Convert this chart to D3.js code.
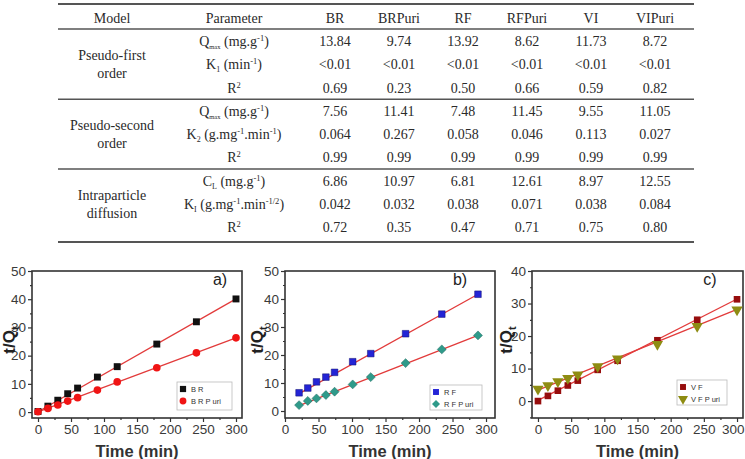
<!DOCTYPE html>
<html><head><meta charset="utf-8">
<script src="https://cdn.jsdelivr.net/npm/d3@7"></script>
<style>body{margin:0;background:#fff}svg{display:block}</style>
</head><body><div id="graph"></div>
<script>
var width=745, height=459;
var svg=d3.select('#graph').append('svg').attr('width',width).attr('height',height);

// ---- table data
var models=[["Pseudo-first","order"],["Pseudo-second","order"],["Intraparticle","diffusion"]];
var params=["Q_{max} (mg.g^{-1})","K_{1} (min^{-1})","R^{2}",
  "Q_{max} (mg.g^{-1})","K_{2} (g.mg^{-1}.min^{-1})","R^{2}",
  "C_{L} (mg.g^{-1})","K_{I} (g.mg^{-1}.min^{-1/2})","R^{2}"];
var columns=["BR","BRPuri","RF","RFPuri","VI","VIPuri"];
var cells=[
  ["13.84","9.74","13.92","8.62","11.73","8.72"],
  ["<0.01","<0.01","<0.01","<0.01","<0.01","<0.01"],
  ["0.69","0.23","0.50","0.66","0.59","0.82"],
  ["7.56","11.41","7.48","11.45","9.55","11.05"],
  ["0.064","0.267","0.058","0.046","0.113","0.027"],
  ["0.99","0.99","0.99","0.99","0.99","0.99"],
  ["6.86","10.97","6.81","12.61","8.97","12.55"],
  ["0.042","0.032","0.038","0.071","0.038","0.084"],
  ["0.72","0.35","0.47","0.71","0.75","0.80"]
];

// ---- kinetic data (t/Qt vs time)
var timeA=[0,15,30,45,60,90,120,180,240,300];
var BR=[0.2,2.1,4.2,6.5,8.5,12.4,16.1,24.1,32.0,40.1];
var BRPuri=[0.1,1.3,2.5,3.9,5.1,7.8,10.7,15.7,21.0,26.3];
var timeB=[21,34,47,61,74,101,128,180,234,288];
var RF=[6.5,8.2,10.4,12.1,13.8,17.6,20.5,27.6,34.6,41.7];
var RFPuri=[2.1,3.6,4.5,5.7,6.9,9.5,12.1,17.1,22.0,27.0];
var timeC=[0,15,30,45,60,90,120,180,240,300];
var VF=[0.0,1.6,3.2,4.8,6.3,9.6,12.4,18.7,25.0,31.3];
var VFPuri=[3.7,4.8,6.0,7.0,8.1,10.6,13.0,17.5,23.0,28.1];
// fitted lines, end points
var fitBR=[[0,0.1],[300,40.1]], fitBRPuri=[[0,0.1],[300,26.3]];
var fitRF=[[21,6.2],[288,41.7]], fitRFPuri=[[21,1.9],[288,27.0]];
var fitVF=[[0,0.2],[300,31.4]], fitVFPuri=[[0,3.4],[300,28.2]];
var xTicks=[0,50,100,150,200,250,300];

// ================= TABLE
var serif='"Liberation Serif","Times New Roman",serif';
var tbl=svg.append('g').attr('font-family',serif).attr('font-size','14px').attr('fill','#2a2a2a');
var colX=d3.scalePoint().domain(columns).range([335,655]);
var rowY=d3.scalePoint().domain(d3.range(params.length)).range([41,227]);
var tx0=58, tx1=694;

function richText(sel,s){
  var parts=s.split(/(_\{[^}]*\}|\^\{[^}]*\})/).filter(function(p){return p.length;});
  var shift=0;
  parts.forEach(function(p){
    var t=sel.append('tspan'), target=0, txt=p;
    if(p[0]=='_'){target=3;txt=p.slice(2,-1);t.attr('font-size',txt=='max'?'6.5px':'8px');}
    else if(p[0]=='^'){target=-5;txt=p.slice(2,-1);t.attr('font-size','8.5px');}
    t.attr('dy',target-shift).text(txt);
    shift=target;
  });
}

[[4,2],[29,1.5],[(rowY(2)+rowY(3))/2,1.5],[(rowY(5)+rowY(6))/2,1.5],[242,2]].forEach(function(l){
  tbl.append('line').attr('x1',tx0).attr('x2',tx1).attr('y1',l[0]).attr('y2',l[0])
    .attr('stroke','#555').attr('stroke-width',l[1]);
});
tbl.append('text').attr('x',112).attr('y',18+5).attr('text-anchor','middle').text('Model');
tbl.append('text').attr('x',234).attr('y',18+5).attr('text-anchor','middle').text('Parameter');
tbl.selectAll('text.col').data(columns).enter().append('text').attr('class','col')
  .attr('x',function(d){return colX(d);}).attr('y',23).attr('text-anchor','middle').text(function(d){return d;});
models.forEach(function(m,i){
  var mid=rowY(i*3+1);
  tbl.append('text').attr('x',112).attr('y',mid-9+5).attr('text-anchor','middle').text(m[0]);
  tbl.append('text').attr('x',112).attr('y',mid+9+5).attr('text-anchor','middle').text(m[1]);
});
params.forEach(function(p,i){
  var t=tbl.append('text').attr('x',234).attr('y',rowY(i)+5).attr('text-anchor','middle');
  richText(t,p);
});
cells.forEach(function(row,i){
  tbl.selectAll(null).data(row).enter().append('text')
    .attr('x',function(d,j){return colX(columns[j]);}).attr('y',rowY(i)+5)
    .attr('text-anchor','middle').text(function(d){return d;});
});

// ================= PANELS
var sans='"Liberation Sans",Arial,sans-serif';
function panel(o){
  var x=d3.scaleLinear().domain(o.xd).range(o.xr);
  var y=d3.scaleLinear().domain(o.yd).range([418,271]);
  var g=svg.append('g').attr('font-family',sans);
  var ax=g.append('g').attr('transform','translate(0,418)')
    .call(d3.axisBottom(x).tickValues(xTicks).tickSize(4).tickPadding(2));
  g.append('g').attr('transform','translate(0,418)')
    .call(d3.axisBottom(x).tickValues(xTicks.map(function(v){return v+25;}).filter(function(v){return v<=o.xd[1];})).tickSize(2).tickFormat(''));
  g.append('g').attr('transform','translate('+o.xr[0]+',0)')
    .call(d3.axisLeft(y).tickValues(o.yTicks).tickSize(4).tickPadding(2));
  g.append('g').attr('transform','translate('+o.xr[0]+',0)')
    .call(d3.axisLeft(y).tickValues(o.yMinor).tickSize(2).tickFormat(''));
  g.selectAll('.domain').remove();
  g.selectAll('.tick line').attr('stroke','#333').attr('stroke-width',1.2);
  g.selectAll('.tick text').attr('font-size','13.5px').attr('fill','#3a3a3a').attr('font-family',sans);
  // keep the last x label inside the page
  ax.selectAll('.tick text').filter(function(d){return x(d)+11>width;})
    .attr('text-anchor','end').attr('x',function(d){return width-1-x(d);});
  g.append('rect').attr('x',o.xr[0]).attr('y',271).attr('width',o.xr[1]-o.xr[0]).attr('height',147)
    .attr('fill','none').attr('stroke','#333').attr('stroke-width',1.6);
  // fits
  var line=d3.line().x(function(d){return x(d[0]);}).y(function(d){return y(d[1]);});
  o.fits.forEach(function(f){
    g.append('path').attr('d',line(f)).attr('fill','none').attr('stroke','#e23b3b').attr('stroke-width',1.3);
  });
  // markers
  o.series.forEach(function(s){
    g.selectAll(null).data(s.vals).enter().append('path')
      .attr('d',d3.symbol().type(s.sym).size(s.size))
      .attr('transform',function(d,i){return 'translate('+x(o.t[i])+','+y(d)+') rotate('+(s.rot||0)+')';})
      .attr('fill',s.color).attr('stroke',s.stroke||'none').attr('stroke-width',0.5);
  });
  // legend
  var L=o.legend;
  g.append('rect').attr('x',L.x).attr('y',L.y).attr('width',L.w).attr('height',L.h)
    .attr('fill','#fff').attr('stroke','#bbb').attr('stroke-width',0.8);
  o.series.forEach(function(s,i){
    var yy=L.y+7+i*12;
    g.append('path').attr('d',d3.symbol().type(s.sym).size(s.size*0.8))
      .attr('transform','translate('+(L.x+6)+','+yy+') rotate('+(s.rot||0)+')')
      .attr('fill',s.color);
    g.append('text').attr('x',L.x+14).attr('y',yy+2.5).attr('font-size','7.5px')
      .attr('fill','#333').text(s.label);
  });
  g.append('text').attr('x',o.tag[0]).attr('y',o.tag[1]+5).attr('text-anchor','middle')
    .attr('font-size','16px').attr('fill','#222').text(o.tagText);
  g.append('text').attr('x',(o.xr[0]+o.xr[1])/2).attr('y',457).attr('text-anchor','middle')
    .attr('font-size','16.5px').attr('font-weight','bold').attr('fill','#333').text('Time (min)');
  var yl=g.append('text').attr('transform','translate('+o.ylx+',340) rotate(-90)')
    .attr('text-anchor','middle').attr('font-size','17px').attr('font-weight','bold').attr('fill','#222');
  yl.append('tspan').text('t/Q');
  yl.append('tspan').attr('dy',4).attr('font-size','11px').text('t');
}

panel({xd:[-9.1,309.1],xr:[32,242],yd:[-2.1,50],t:timeA,
  yTicks:[0,10,20,30,40,50],yMinor:[5,15,25,35,45],
  fits:[fitBR,fitBRPuri],
  series:[{vals:BR,sym:d3.symbolSquare,size:48,color:'#111',label:'B R'},
          {vals:BRPuri,sym:d3.symbolCircle,size:46,color:'#f01414',label:'B R P uri'}],
  legend:{x:177,y:382,w:55,h:28},tag:[220,280],tagText:'a)',ylx:15});
panel({xd:[0,313.4],xr:[285,495],yd:[-2.5,50],t:timeB,
  yTicks:[0,10,20,30,40,50],yMinor:[5,15,25,35,45],
  fits:[fitRF,fitRFPuri],
  series:[{vals:RF,sym:d3.symbolSquare,size:44,color:'#2424d6',stroke:'#101070',label:'R F'},
          {vals:RFPuri,sym:d3.symbolSquare,size:40,color:'#2f9a8a',stroke:'#1d6b60',rot:45,label:'R F P uri'}],
  legend:{x:430,y:385,w:52,h:25},tag:[460,280],tagText:'b)',ylx:263});
panel({xd:[-9,309],xr:[532,743],yd:[-5.2,40],t:timeC,
  yTicks:[0,10,20,30,40],yMinor:[-5,5,15,25,35],
  fits:[fitVF,fitVFPuri],
  series:[{vals:VF,sym:d3.symbolSquare,size:44,color:'#960d0d',label:'V F'},
          {vals:VFPuri,sym:d3.symbolTriangle,size:55,color:'#8e8c12',rot:180,label:'V F P uri'}],
  legend:{x:677,y:380,w:50,h:25},tag:[710,280],tagText:'c)',ylx:512});
</script>
</body></html>
